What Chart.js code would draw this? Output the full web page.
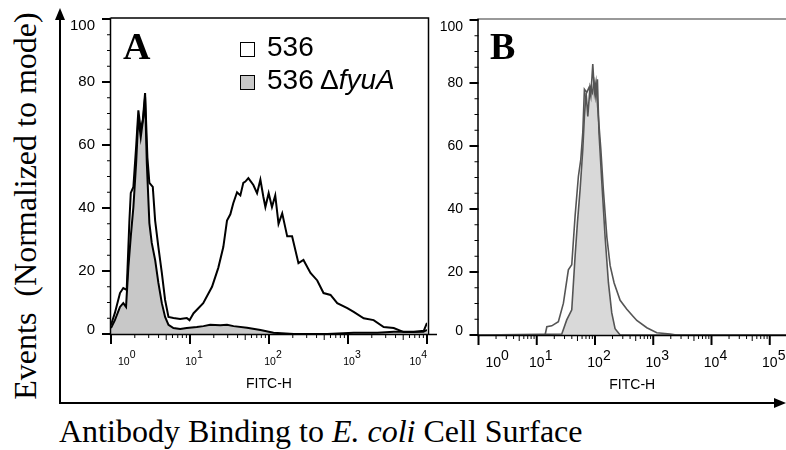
<!DOCTYPE html>
<html>
<head>
<meta charset="utf-8">
<script src="https://cdn.jsdelivr.net/npm/chart.js@4.4.1/dist/chart.umd.min.js"></script>
<style>
  html, body { margin: 0; padding: 0; background: #fff; }
  body { width: 786px; height: 450px; overflow: hidden; position: relative; font-family: 'Liberation Sans', Arial, sans-serif; }
  canvas { position: absolute; top: 0; }
  #chartA { left: 60px; }
  #chartB { left: 430px; }
  .txt { position: absolute; white-space: pre; line-height: 1; color: #000; }
  .serif { font-family: 'Liberation Serif', 'Times New Roman', serif; }
  .box { position: absolute; width: 15px; height: 15px; box-sizing: border-box; border: 1.5px solid #000; }
  #frame { position: absolute; left: 0; top: 0; }
</style>
</head>
<body>
<svg id="frame" width="786" height="450">
  <line x1="60" y1="404" x2="60" y2="18" stroke="#000" stroke-width="2"/>
  <polygon points="60,8 55,20 65,20" fill="#000"/>
  <line x1="59" y1="403" x2="776" y2="403" stroke="#000" stroke-width="2"/>
  <polygon points="786,403 774,398 774,408" fill="#000"/>
</svg>

<canvas id="chartA" width="380" height="400" style="width:380px;height:400px"></canvas>
<canvas id="chartB" width="400" height="400" style="width:400px;height:400px"></canvas>

<div class="txt serif" style="left:123px;top:27px;font-size:38px;font-weight:bold">A</div>
<div class="txt serif" style="left:490px;top:27px;font-size:38px;font-weight:bold">B</div>

<div class="box" style="left:240px;top:42px;background:#fff"></div>
<div class="txt" style="left:267px;top:33px;font-size:28px">536</div>
<div class="box" style="left:240px;top:75px;background:#c8c8c8"></div>
<div class="txt" style="left:267px;top:66px;font-size:28px">536 Δ<i>fyuA</i></div>

<div class="txt serif" style="left:25px;top:206px;font-size:32px;transform:translate(-50%,-50%) rotate(-90deg)">Events  (Normalized to mode)</div>
<div class="txt serif" style="left:59px;top:415px;font-size:32px">Antibody Binding to <i>E. coli</i> Cell Surface</div>

<script>
// panel A: strain 536 (open) and 536 ΔfyuA (filled)
const a536X = [1, 1.12, 1.30, 1.43, 1.58, 1.71, 1.78, 1.92, 2.08, 2.22, 2.38, 2.53, 2.70, 2.89, 3.06, 3.38, 3.62, 3.98, 4.40, 4.84,
  5.34, 6.17, 7.51, 9.1, 9.86, 11.1, 14.7, 19.0, 22.8, 26.4, 29.4, 32.4, 35.3, 39.4, 43.4, 47.3, 50.2, 54.8, 63.4, 70.6,
  77.8, 84.9, 90, 99, 109, 120, 132, 147, 170, 196, 236, 273, 335, 408, 490, 601, 731, 980, 1180, 1580,
  2110, 2830, 3790, 5080, 6800, 9100, 10000];
const a536Y = [2.9, 6.7, 13, 14.6, 14, 36, 44.8, 46.7, 59.4, 71, 64.8, 68, 76.5, 56, 48, 46.7, 36, 27.6, 19.4, 10.8,
  5.4, 5.1, 4.8, 5.1, 4.4, 6.6, 9.8, 15, 21, 27.6, 36, 38, 41.5, 45, 44, 48, 48.4, 49.5, 47.3, 44.7,
  49, 43.5, 40.3, 44.7, 40.3, 44, 35, 38.3, 31, 31, 22.5, 23.5, 19.4, 17, 13, 12.4, 9.8, 8.2, 7, 5,
  4.4, 2.2, 1.9, 0.6, 0.6, 1, 3.5];
const aFyuX = [1, 1.12, 1.30, 1.43, 1.55, 1.66, 1.78, 1.92, 2.08, 2.22, 2.38, 2.57, 2.70, 2.84, 3.06, 3.28, 3.62, 3.98, 4.40, 4.84,
  5.34, 6.17, 7.51, 9.1, 12.2, 14.8, 18.0, 24.2, 29.4, 35.6, 52.7, 78, 114, 206, 546, 1180, 2360, 3800, 6200, 9000, 10000];
const aFyuY = [1.9, 4.4, 8.6, 9.8, 8.6, 21.3, 31, 40.3, 54.3, 68.9, 62.5, 68.9, 75.2, 54.3, 35.2, 28.9, 23.5, 16.2, 9.8, 5.4,
  2.9, 1.9, 1.6, 1.9, 2.2, 2.5, 2.9, 2.8, 2.9, 2.5, 2.0, 1.3, 0.4, 0, 0, 0.4, 0.4, 0.7, 0.7, 0.7, 1.3];

// panel B
const b536X = [1, 13.9, 14.9, 18.1, 23.5, 28.7, 34.9, 39.9, 45.5, 51.9, 57, 61.7, 65.8, 72.3, 79.2, 84.7, 91.6, 97.7, 104, 114,
  126, 139, 160, 182, 213, 270, 352, 457, 522, 776, 1150, 1950, 2500, 1e6];
const b536Y = [0, 0, 2.6, 2.9, 4.2, 10.1, 20.7, 22.3, 37.7, 50.4, 55.7, 64.3, 78, 77, 78.6, 75.8, 86, 77, 80.3, 69.4,
  58.9, 46.2, 31, 22, 16.5, 11, 8.2, 5.8, 4.6, 2.3, 0.7, 0.3, 0, 0];
const bFyuX = [1, 26.9, 32.7, 39.9, 45.5, 49.9, 55.5, 61.7, 65.8, 70.3, 75.2, 82.4, 90, 96.3, 103, 110, 117, 131, 149, 170,
  194, 221, 270, 1e6];
const bFyuY = [0, 0.3, 4.8, 8, 24.9, 35.6, 46.2, 58.9, 69.4, 77, 69.4, 79, 77, 80.3, 75.8, 81.2, 64.3, 48.4, 31.2, 16.6,
  7, 2, 0, 0];

const yTicks = [0, 20, 40, 60, 80, 100];
const yMinorStep = 5;
const decadesA = [0, 1, 2, 3, 4];
const decadesB = [0, 1, 2, 3, 4, 5];
const xTitle = 'FITC-H';

const toPoints = (xs, ys) => xs.map((x, i) => ({ x: x, y: ys[i] }));

// FlowJo style axes: ticks, 10^n labels, frame
const flowAxes = {
  id: 'flowAxes',
  afterDatasetsDraw(chart, args, o) {
    const { ctx, chartArea: a, scales: { x, y } } = chart;
    ctx.save();
    ctx.lineCap = 'butt';

    if (o.frameColor) {
      ctx.strokeStyle = o.frameColor;
      ctx.lineWidth = 1.5;
      ctx.beginPath();
      ctx.moveTo(a.left, a.top - 1);
      ctx.lineTo(o.rightFrame ? a.right + 1.5 : a.right + 10, a.top - 1);
      if (o.rightFrame) ctx.lineTo(a.right + 1.5, a.bottom);
      ctx.stroke();
    }

    ctx.strokeStyle = '#000';
    ctx.lineWidth = 1.5;
    ctx.beginPath();
    ctx.moveTo(a.left - 0.5, a.top - 1.5);
    ctx.lineTo(a.left - 0.5, a.bottom + 0.5);
    ctx.lineTo(a.right + 10, a.bottom + 0.5);
    ctx.stroke();

    // y ticks
    for (let v = 0; v <= 100; v += yMinorStep) {
      const py = y.getPixelForValue(v);
      const major = yTicks.includes(v);
      ctx.lineWidth = major ? 2 : 1;
      ctx.beginPath();
      ctx.moveTo(a.left - (major ? 9 : 4), py);
      ctx.lineTo(a.left, py);
      ctx.stroke();
    }
    ctx.fillStyle = '#000';
    ctx.font = o.yFont + 'px "Liberation Sans", Arial, sans-serif';
    ctx.textAlign = 'right';
    ctx.textBaseline = 'middle';
    yTicks.forEach(v => {
      const py = Math.min(Math.max(y.getPixelForValue(v), a.top + 7), a.bottom - 4);
      ctx.fillText(String(v), a.left - o.yGap, py);
    });

    // x ticks, decades and minors
    o.decades.forEach(d => {
      const base = Math.pow(10, d);
      const px = x.getPixelForValue(base);
      ctx.lineWidth = 2;
      ctx.beginPath();
      ctx.moveTo(px, a.bottom + 1);
      ctx.lineTo(px, a.bottom + 10);
      ctx.stroke();
      for (let m = 2; m <= 9; m++) {
        const v = base * m;
        if (v > x.max) break;
        const mx = x.getPixelForValue(v);
        ctx.lineWidth = 1;
        ctx.beginPath();
        ctx.moveTo(mx, a.bottom + 1);
        ctx.lineTo(mx, a.bottom + (m === 5 ? 6 : 4));
        ctx.stroke();
      }
    });

    ctx.font = o.xFont + 'px "Liberation Sans", Arial, sans-serif';
    ctx.textAlign = 'left';
    ctx.textBaseline = 'alphabetic';
    const limit = o.visibleRight || a.right;
    o.decades.forEach(d => {
      const px = x.getPixelForValue(Math.pow(10, d));
      const wb = ctx.measureText('10').width;
      const we = ctx.measureText(String(d)).width;
      const w = wb + we;
      const cx = Math.min(Math.max(px + 4, a.left + w / 2 + 7), a.right - w / 2);
      ctx.fillText('10', cx - w / 2, a.bottom + o.baseDy);
      ctx.fillText(String(d), cx - w / 2 + wb, a.bottom + o.baseDy - 7);
    });

    ctx.font = '14px "Liberation Sans", Arial, sans-serif';
    ctx.textAlign = 'center';
    ctx.fillText(xTitle, (a.left + Math.min(a.right, limit)) / 2, a.bottom + 54);
    ctx.restore();
  }
};

function makeChart(id, datasets, xMax, padding, axisOpts) {
  return new Chart(document.getElementById(id), {
    type: 'line',
    data: { datasets: datasets },
    options: {
      responsive: false,
      animation: false,
      layout: { padding: padding },
      elements: { point: { radius: 0 }, line: { tension: 0 } },
      scales: {
        x: { type: 'logarithmic', min: 1, max: xMax, display: false },
        y: { type: 'linear', min: 0, max: 100, display: false }
      },
      plugins: {
        legend: { display: false },
        tooltip: { enabled: false },
        filler: { drawTime: 'beforeDatasetsDraw' },
        flowAxes: axisOpts
      }
    },
    plugins: [flowAxes]
  });
}

makeChart('chartA', [
  { label: '536', data: toPoints(a536X, a536Y), borderColor: '#000', borderWidth: 2, fill: false },
  { label: '536 ΔfyuA', data: toPoints(aFyuX, aFyuY), borderColor: '#000', borderWidth: 2,
    backgroundColor: '#c8c8c8', fill: 'origin' }
], 10000, { left: 51, top: 19, right: 13, bottom: 66 },
  { decades: decadesA, yFont: 15, yGap: 16, xFont: 10.5, baseDy: 31, frameColor: '#000', rightFrame: true });

makeChart('chartB', [
  { label: '536', data: toPoints(b536X, b536Y), borderColor: '#555', borderWidth: 1.6, fill: false },
  { label: '536 ΔfyuA', data: toPoints(bFyuX, bFyuY), borderColor: '#555', borderWidth: 1.6,
    backgroundColor: '#d9d9d9', fill: 'origin' }
], 1e6, { left: 48.5, top: 20, right: 2, bottom: 65 },
  { decades: decadesB, yFont: 14, yGap: 15.5, xFont: 14, baseDy: 32, frameColor: '#777', rightFrame: false, visibleRight: 356 });
</script>
</body>
</html>
